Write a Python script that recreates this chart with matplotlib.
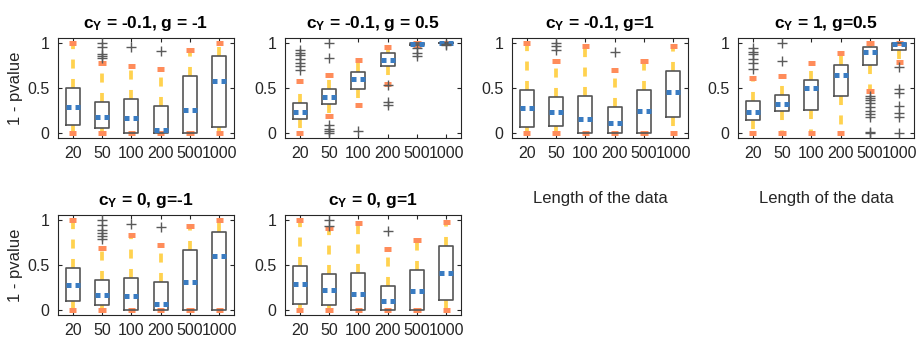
import matplotlib
matplotlib.use("Agg")
import matplotlib.pyplot as plt
import numpy as np

plt.rcParams['font.family'] = ['Liberation Sans', 'DejaVu Sans']
plt.rcParams['mathtext.fontset'] = 'custom'
plt.rcParams['mathtext.rm'] = 'Liberation Sans'
plt.rcParams['mathtext.bf'] = 'Liberation Sans:bold'
plt.rcParams['lines.scale_dashes'] = False

lengths = ['20', '50', '100', '200', '500', '1000']

titles = [r'$\mathbf{c_Y}$ = -0.1, g = -1',
          r'$\mathbf{c_Y}$ = -0.1, g = 0.5',
          r'$\mathbf{c_Y}$ = -0.1, g=1',
          r'$\mathbf{c_Y}$ = 1, g=0.5',
          r'$\mathbf{c_Y}$ = 0, g=-1',
          r'$\mathbf{c_Y}$ = 0, g=1']

# one row per panel, one value per data length
medians = [
    [0.287, 0.176, 0.173, 0.037, 0.257, 0.577],
    [0.235, 0.397, 0.596, 0.812, 0.985, 1.0],
    [0.285, 0.235, 0.162, 0.12, 0.245, 0.458],
    [0.235, 0.325, 0.495, 0.639, 0.895, 0.98],
    [0.28, 0.17, 0.16, 0.07, 0.318, 0.60],
    [0.29, 0.22, 0.18, 0.10, 0.21, 0.41],
]
q1 = [
    [0.088, 0.06, 0.0, 0.0, 0.0, 0.074],
    [0.162, 0.325, 0.487, 0.747, 0.975, 0.995],
    [0.072, 0.083, 0.0, 0.0, 0.0, 0.18],
    [0.144, 0.242, 0.256, 0.415, 0.751, 0.915],
    [0.10, 0.055, 0.0, 0.0, 0.0, 0.0],
    [0.07, 0.06, 0.0, 0.0, 0.0, 0.115],
]
q3 = [
    [0.496, 0.35, 0.375, 0.30, 0.636, 0.853],
    [0.332, 0.487, 0.675, 0.885, 0.99, 1.0],
    [0.48, 0.397, 0.41, 0.29, 0.48, 0.686],
    [0.354, 0.426, 0.592, 0.758, 0.946, 0.99],
    [0.47, 0.33, 0.354, 0.318, 0.664, 0.865],
    [0.484, 0.40, 0.41, 0.27, 0.45, 0.71],
]
whisk_lo = [
    [0.0, 0.0, 0.0, 0.0, 0.0, 0.0],
    [0.0, 0.188, 0.314, 0.549, 0.96, 0.99],
    [0.0, 0.0, 0.0, 0.0, 0.0, 0.0],
    [0.0, 0.0, 0.0, 0.0, 0.47, 0.79],
    [0.0, 0.0, 0.0, 0.0, 0.0, 0.0],
    [0.0, 0.0, 0.0, 0.0, 0.0, 0.0],
]
whisk_hi = [
    [0.99, 0.78, 0.746, 0.71, 0.92, 1.0],
    [0.578, 0.643, 0.81, 0.946, 1.0, 1.0],
    [0.99, 0.80, 0.957, 0.693, 0.794, 0.964],
    [0.606, 0.632, 0.776, 0.89, 0.99, 1.0],
    [1.0, 0.69, 0.83, 0.72, 0.93, 1.0],
    [0.99, 0.906, 0.957, 0.68, 0.776, 0.975],
]
outliers = [
    [[], [0.99, 0.95, 0.87, 0.85, 0.83], [0.95], [0.91], [], []],
    [[0.92, 0.89, 0.86, 0.82, 0.78, 0.74, 0.70],
     [0.99, 0.83, 0.09, 0.054, 0.025, 0.0],
     [0.025],
     [0.53, 0.35, 0.31],
     [0.94, 0.88, 0.85],
     [0.98, 0.97]],
    [[], [0.99, 0.96, 0.92], [], [0.895], [], []],
    [[0.94, 0.90, 0.87, 0.82, 0.78, 0.71],
     [0.99, 0.80],
     [],
     [],
     [0.41, 0.39, 0.37, 0.33, 0.29, 0.25, 0.21, 0.18, 0.02, 0.005],
     [0.73, 0.49, 0.44, 0.30, 0.22, 0.18, 0.01]],
    [[], [1.0, 0.945, 0.88, 0.85, 0.82, 0.79], [0.95], [0.92], [], []],
    [[], [0.99, 0.93], [], [0.87], [], []],
]

box_col = '#555555'
whisk_col = '#ffd24f'
cap_col = '#ff8c5a'
med_col = '#3a7cc2'
out_col = '#5a5a5a'
txt_col = '#262626'

fig = plt.figure(figsize=(9.18, 3.4), dpi=100)

lefts = [58, 285, 512, 738, 58, 285]
bottoms = [138, 138, 138, 138, 315, 315]
W, H = 176, 100

for p in range(6):
    ax = fig.add_axes([lefts[p] / 918, 1 - bottoms[p] / 340, W / 918, H / 340])
    x = np.arange(1, 7)
    for i in range(6):
        xi = x[i]
        hw = 0.24
        # whiskers
        ax.plot([xi, xi], [q3[p][i], whisk_hi[p][i]], color=whisk_col, lw=2.7,
                dashes=(6.5, 7.5), solid_capstyle='butt', dash_capstyle='butt', zorder=2)
        ax.plot([xi, xi], [q1[p][i], whisk_lo[p][i]], color=whisk_col, lw=2.7,
                dashes=(6.5, 7.5), solid_capstyle='butt', dash_capstyle='butt', zorder=2)
        # caps
        for v in (whisk_lo[p][i], whisk_hi[p][i]):
            ax.plot([xi - 0.125, xi + 0.125], [v, v], color=cap_col, lw=3.6,
                    solid_capstyle='butt', zorder=3)
        # box
        ax.plot([xi - hw, xi + hw, xi + hw, xi - hw, xi - hw],
                [q1[p][i], q1[p][i], q3[p][i], q3[p][i], q1[p][i]],
                color=box_col, lw=1.2, zorder=4)
        # median
        ax.plot([xi - hw, xi + hw], [medians[p][i], medians[p][i]], color=med_col,
                lw=3.6, dashes=(3.6, 2.9), dash_capstyle='butt', zorder=5)
        # outliers
        ov = outliers[p][i]
        if ov:
            ax.plot([xi] * len(ov), ov, linestyle='none', marker='+', ms=7,
                    mew=1.0, color=out_col, zorder=6)

    ax.set_xlim(0.5, 6.5)
    ax.set_ylim(-0.05, 1.05)
    ax.set_xticks(x)
    ax.set_xticklabels(lengths)
    ax.set_yticks([0, 0.5, 1])
    ax.set_yticklabels(['0', '0.5', '1'])
    ax.tick_params(direction='in', length=3, width=0.8, top=True, right=True,
                   labelsize=11.5, colors=txt_col, pad=6)
    for s in ax.spines.values():
        s.set_color(txt_col)
        s.set_linewidth(0.8)
    ax.set_title(titles[p], fontsize=12.5, fontweight='bold', color='black', pad=7)
    if p in (0, 4):
        ax.set_ylabel('1 - pvalue', fontsize=12, color=txt_col, labelpad=3)
    if p in (2, 3):
        ax.set_xlabel('Length of the data', fontsize=12, color=txt_col, labelpad=21)

fig.savefig('out.png', dpi=100)
